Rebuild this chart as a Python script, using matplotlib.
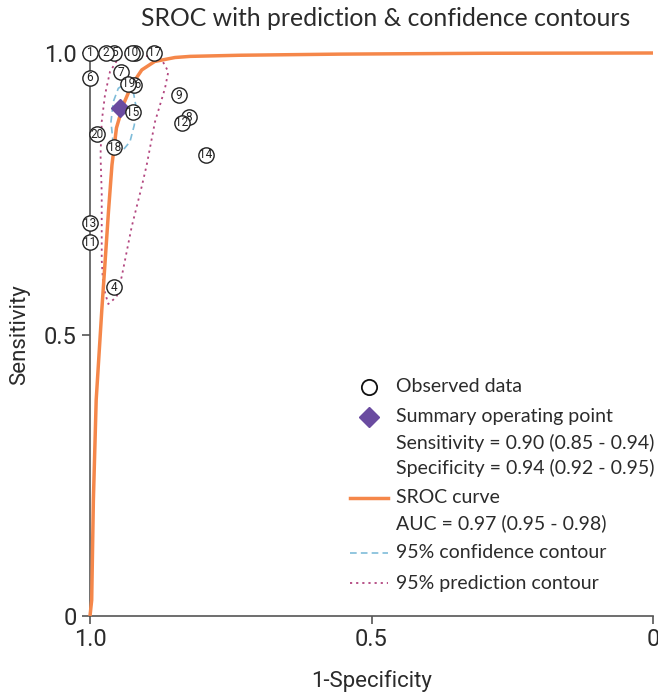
import matplotlib
matplotlib.use("Agg")
import matplotlib.pyplot as plt

# ---- data ----
study_ids = [1, 2, 3, 4, 5, 6, 7, 8, 9, 10, 11, 12, 13, 14, 15, 16, 17, 18, 19, 20]
study_spec = [1.000, 0.972, 0.920, 0.957, 0.957, 1.000, 0.945, 0.824, 0.842, 0.926,
              1.000, 0.837, 1.000, 0.794, 0.924, 0.921, 0.886, 0.957, 0.932, 0.988]
study_sens = [1.000, 1.000, 1.000, 0.584, 1.000, 0.956, 0.966, 0.886, 0.925, 1.000,
              0.664, 0.876, 0.698, 0.819, 0.895, 0.944, 1.000, 0.833, 0.945, 0.856]
# order in which the study circles are stacked (first = bottom)
draw_order = [1, 5, 2, 3, 4, 6, 7, 8, 9, 10, 11, 12, 13, 14, 15, 16, 17, 18, 19, 20]

summary_spec = 0.946
summary_sens = 0.902

sroc_spec = [1.000, 0.997, 0.994, 0.989, 0.979, 0.973, 0.967, 0.961, 0.953, 0.941,
             0.926, 0.908, 0.885, 0.849, 0.822, 0.734, 0.556, 0.300, 0.000]
sroc_sens = [0.000, 0.028, 0.206, 0.384, 0.544, 0.632, 0.721, 0.801, 0.867, 0.908,
             0.943, 0.970, 0.985, 0.992, 0.994, 0.996, 0.998, 0.9995, 1.000]

conf_spec = [0.9378, 0.9231, 0.9188, 0.9213, 0.9290, 0.9437, 0.9586, 0.9627, 0.9586, 0.9497, 0.9378]
conf_sens = [0.9449, 0.9313, 0.9076, 0.8721, 0.8425, 0.8247, 0.8366, 0.8780, 0.9135, 0.9373, 0.9449]

pred_spec = [0.9112, 0.8881, 0.8703, 0.8609, 0.8668, 0.8845, 0.8993, 0.9082, 0.9259, 0.9437,
             0.9526, 0.9675, 0.9764, 0.9792, 0.9792, 0.9813, 0.9792, 0.9734, 0.9645, 0.9497,
             0.9325, 0.9112]
pred_sens = [0.9964, 0.9929, 0.9840, 0.9668, 0.9373, 0.8780, 0.8011, 0.7625, 0.6915, 0.6027,
             0.5671, 0.5542, 0.5849, 0.6323, 0.7513, 0.8188, 0.8780, 0.9254, 0.9668, 0.9906,
             0.9973, 0.9964]

x_tick_vals = [1.0, 0.5, 0.0]
x_tick_labels = ["1.0", "0.5", "0"]
y_tick_vals = [0.0, 0.5, 1.0]
y_tick_labels = ["0", "0.5", "1.0"]

legend_labels = ["Observed data", "Summary operating point",
                 "Sensitivity = 0.90 (0.85 - 0.94)", "Specificity = 0.94 (0.92 - 0.95)",
                 "SROC curve", "AUC = 0.97 (0.95 - 0.98)",
                 "95% confidence contour", "95% prediction contour"]

# ---- style ----
TXT = "#2b2b2b"
ORANGE = "#F5874A"
PURPLE = "#6A4BA0"
BLUE = "#7FBCD9"
MAG = "#B2457F"
AX = "#555555"
FONT = ["Lato", "DejaVu Sans"]
NFONT = ["Liberation Sans Narrow", "Roboto", "DejaVu Sans"]

W, H = 658, 694
fig = plt.figure(figsize=(W / 100, H / 100), dpi=100)
x0, x1, ytop, ybot = 90, 653, 53, 616
ax = fig.add_axes([x0 / W, 1 - ybot / H, (x1 - x0) / W, (ybot - ytop) / H])
ax.set_xlim(1, 0)
ax.set_ylim(0, 1)
for s in ["top", "right"]:
    ax.spines[s].set_visible(False)
for s in ["left", "bottom"]:
    ax.spines[s].set_color(AX)
    ax.spines[s].set_linewidth(1.2)

ax.set_xticks(x_tick_vals)
ax.set_xticklabels(x_tick_labels)
ax.set_yticks(y_tick_vals)
ax.set_yticklabels(y_tick_labels)
ax.tick_params(colors=AX, labelcolor=TXT, length=6, width=1.2, labelsize=17)
ax.tick_params(axis="x", pad=3)
for lab in ax.get_xticklabels() + ax.get_yticklabels():
    lab.set_family(NFONT)

ax.set_xlabel("1-Specificity", fontsize=16, color=TXT, family=NFONT, labelpad=13)
ax.set_ylabel("Sensitivity", fontsize=16, color=TXT, family=NFONT, labelpad=10)
fig.text(386 / W, 1 - 18 / H, "SROC with prediction & confidence contours",
         ha="center", va="center", fontsize=17.8, color=TXT, family=FONT)

# curves
ax.plot(pred_spec, pred_sens, color=MAG, lw=1.3, ls=(0, (1.2, 2.2)), clip_on=False, zorder=2)
ax.plot(conf_spec, conf_sens, color=BLUE, lw=1.2, ls=(0, (4, 2.5)), clip_on=False, zorder=2)
ax.plot(sroc_spec, sroc_sens, color=ORANGE, lw=2.5, clip_on=False, zorder=3, solid_capstyle="butt")

# study points
for k, sid in enumerate(draw_order):
    i = study_ids.index(sid)
    sx, sy = study_spec[i], study_sens[i]
    z = 4 + k * 0.01
    ax.plot(sx, sy, "o", ms=11, mfc="white", mec="#222222", mew=1.0, clip_on=False, zorder=z)
    ax.text(sx, sy, str(sid), ha="center", va="center", fontsize=8.5,
            color="#222222", family=NFONT, zorder=z + 0.005, clip_on=False)

ax.plot(summary_spec, summary_sens, "D", ms=9, mfc=PURPLE, mec=PURPLE, zorder=3.5, clip_on=False)

# legend drawn manually (pixel layout)
def px(x, y):
    return ((x - x0) / (x1 - x0), (ybot - y) / (ybot - ytop))

ys = [386.5, 416.5, 442.5, 467.5, 497.5, 523, 553, 583]
for lab, yy in zip(legend_labels, ys):
    tx, ty = px(396, yy)
    ax.text(tx, ty, lab, transform=ax.transAxes, ha="left", va="center",
            fontsize=14, color=TXT, family=FONT)

mx, my = px(369, ys[0])
ax.plot([mx], [my], "o", ms=11, mfc="white", mec="#111111", mew=1.3, transform=ax.transAxes, clip_on=False)
mx, my = px(369, ys[1])
ax.plot([mx], [my], "D", ms=10, mfc=PURPLE, mec=PURPLE, transform=ax.transAxes, clip_on=False)
lx0, _ = px(350, 0)
lx1, _ = px(388, 0)
_, ly = px(0, ys[4])
ax.plot([lx0, lx1], [ly, ly], color=ORANGE, lw=2.5, transform=ax.transAxes, clip_on=False)
_, ly = px(0, ys[6])
ax.plot([lx0, lx1], [ly, ly], color=BLUE, lw=1.2, ls=(0, (4, 2.5)), transform=ax.transAxes, clip_on=False)
_, ly = px(0, ys[7])
ax.plot([lx0, lx1], [ly, ly], color=MAG, lw=1.3, ls=(0, (1.2, 2.2)), transform=ax.transAxes, clip_on=False)

fig.savefig("out.png", dpi=100)
